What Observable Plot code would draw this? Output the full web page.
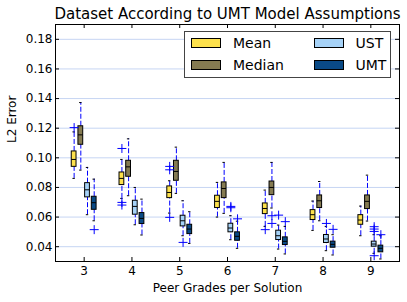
<!DOCTYPE html>
<html>
<head>
<meta charset="utf-8">
<script src="https://cdn.jsdelivr.net/npm/d3@7"></script>
<script src="https://cdn.jsdelivr.net/npm/@observablehq/plot@0.6"></script>
<style>
  html, body { margin: 0; padding: 0; background: #fff; }
  #wrap { position: relative; width: 407px; height: 302px; font-family: "DejaVu Sans", sans-serif; }
  #legend { position: absolute; left: 184px; top: 31px; width: 207px; height: 47px; border: 1.5px solid #444; background: #fff; box-sizing: border-box; }
  .sw { position: absolute; width: 30px; height: 10px; border: 1px solid #000; box-sizing: border-box; }
  .lb { position: absolute; font-size: 14px; line-height: 16px; color: #000; white-space: nowrap; }
</style>
</head>
<body>
<div id="wrap"></div>
<script>
const title = "Dataset According to UMT Model Assumptions";
const xLabel = "Peer Grades per Solution";
const yLabel = "L2 Error";
const groups = [3, 4, 5, 6, 7, 8, 9];
const yTicks = [0.04, 0.06, 0.08, 0.10, 0.12, 0.14, 0.16, 0.18];
const series = ["Mean", "Median", "UST", "UMT"];
const colors = ["#fde14c", "#857b52", "#a6d2f7", "#0a4a86"];

// per group: [lower cap, q1, median, q3, upper cap]
const meanStats = [
  [0.0861, 0.0939, 0.0989, 0.1043, 0.1175],
  [0.0726, 0.0816, 0.0861, 0.0901, 0.0989],
  [0.0627, 0.0728, 0.0766, 0.0807, 0.0845],
  [0.0600, 0.0661, 0.0706, 0.0744, 0.0834],
  [0.0537, 0.0620, 0.0658, 0.0692, 0.0782],
  [0.0510, 0.0580, 0.0616, 0.0647, 0.0708],
  [0.0474, 0.0548, 0.0580, 0.0613, 0.0674]
];
const medianStats = [
  [0.0917, 0.1088, 0.1155, 0.1213, 0.1373],
  [0.0744, 0.0872, 0.0939, 0.0980, 0.1128],
  [0.0760, 0.0845, 0.0908, 0.0980, 0.1072],
  [0.0625, 0.0728, 0.0793, 0.0834, 0.0969],
  [0.0661, 0.0748, 0.0800, 0.0840, 0.0969],
  [0.0575, 0.0661, 0.0710, 0.0746, 0.0840],
  [0.0573, 0.0654, 0.0706, 0.0746, 0.0883]
];
const ustStats = [
  [0.0616, 0.0733, 0.0784, 0.0829, 0.0935],
  [0.0548, 0.0616, 0.0672, 0.0710, 0.0800],
  [0.0474, 0.0537, 0.0575, 0.0609, 0.0710],
  [0.0447, 0.0497, 0.0526, 0.0555, 0.0609],
  [0.0384, 0.0445, 0.0474, 0.0508, 0.0546],
  [0.0373, 0.0425, 0.0452, 0.0479, 0.0537],
  [0.0355, 0.0400, 0.0418, 0.0434, 0.0481]
];
const umtStats = [
  [0.0575, 0.0649, 0.0697, 0.0737, 0.0856],
  [0.0479, 0.0553, 0.0591, 0.0627, 0.0721],
  [0.0422, 0.0485, 0.0519, 0.0548, 0.0636],
  [0.0389, 0.0440, 0.0470, 0.0497, 0.0572],
  [0.0351, 0.0411, 0.0436, 0.0463, 0.0537],
  [0.0344, 0.0393, 0.0416, 0.0434, 0.0481],
  [0.0317, 0.0362, 0.0389, 0.0407, 0.0474]
];
// outliers: [group, value]
const meanOutliers = [[3, 0.1204], [4, 0.1063], [4, 0.0699], [4, 0.0681], [5, 0.0942], [5, 0.0919], [5, 0.0598], [7, 0.0515]];
const medianOutliers = [[7, 0.0609], [7, 0.0557]];
const ustOutliers = [[5, 0.0429], [6, 0.0672], [6, 0.0663], [7, 0.0613], [8, 0.0557], [9, 0.0535], [9, 0.0519], [9, 0.0503], [9, 0.0339]];
const umtOutliers = [[3, 0.0515], [6, 0.0588], [7, 0.0569], [8, 0.0517], [9, 0.0481]];

const allStats = [meanStats, medianStats, ustStats, umtStats];
const allOutliers = [meanOutliers, medianOutliers, ustOutliers, umtOutliers];
const spacing = 0.14, boxHalf = 0.05, capHalf = 0.025;

const boxes = [];
allStats.forEach((stats, i) => stats.forEach((s, j) => boxes.push({
  series: series[i], color: colors[i], x: groups[j] + (i - 1.5) * spacing,
  lo: s[0], q1: s[1], med: s[2], q3: s[3], hi: s[4]
})));
const outliers = [];
allOutliers.forEach((list, i) => list.forEach(([g, v]) => outliers.push({
  series: series[i], x: g + (i - 1.5) * spacing, y: v
})));

const W = 407, H = 302, mL = 55, mR = 8, mT = 24, mB = 41;
const fw = W - mL - mR, fh = H - mT - mB;
const font = "DejaVu Sans";

const chart = Plot.plot({
  width: W, height: H,
  marginLeft: mL, marginRight: mR, marginTop: mT, marginBottom: mB,
  style: { fontFamily: font, background: "white", overflow: "visible" },
  x: { domain: [2.4, 9.6] },
  y: { domain: [0.03, 0.19] },
  marks: [
    Plot.ruleY(yTicks, { stroke: "#c6d5f3", strokeWidth: 1 }),
    Plot.ruleX(boxes, { x: "x", y1: "q3", y2: "hi", stroke: "blue", strokeDasharray: "5,2" }),
    Plot.ruleX(boxes, { x: "x", y1: "lo", y2: "q1", stroke: "blue", strokeDasharray: "5,2" }),
    Plot.rect(boxes, { x1: d => d.x - boxHalf, x2: d => d.x + boxHalf, y1: "q1", y2: "q3", fill: "color", stroke: "black", strokeWidth: 1 }),
    Plot.ruleY(boxes, { y: "med", x1: d => d.x - boxHalf, x2: d => d.x + boxHalf, stroke: "black", strokeWidth: 1 }),
    Plot.ruleY(boxes, { y: "hi", x1: d => d.x - capHalf, x2: d => d.x + capHalf, stroke: "black", strokeWidth: 1 }),
    Plot.ruleY(boxes, { y: "lo", x1: d => d.x - capHalf, x2: d => d.x + capHalf, stroke: "black", strokeWidth: 1 }),
    Plot.dot(outliers, { x: "x", y: "y", symbol: "plus", r: 3, stroke: "blue", strokeWidth: 1 }),
    Plot.frame({ stroke: "black", strokeWidth: 1 }),
    // inward ticks
    Plot.ruleX(groups, { x: d => d, insetTop: fh - 4, stroke: "black" }),
    Plot.ruleX(groups, { x: d => d, insetBottom: fh - 4, stroke: "black" }),
    Plot.ruleY(yTicks, { y: d => d, insetRight: fw - 4, stroke: "black" }),
    Plot.ruleY(yTicks, { y: d => d, insetLeft: fw - 4, stroke: "black" }),
    Plot.axisX(groups, { tickSize: 0, tickPadding: 5, fontSize: 12, label: null, fill: "black" }),
    Plot.axisY(yTicks, { tickSize: 0, tickPadding: 3, fontSize: 12, label: null, tickFormat: d3.format(".2f"), fill: "black" }),
    Plot.text([title], { frameAnchor: "top", lineAnchor: "bottom", dy: -5.5, fontSize: 15, fill: "black" }),
    Plot.text([xLabel], { frameAnchor: "bottom", lineAnchor: "bottom", dy: 30.5, fontSize: 12, fill: "black" }),
    Plot.text([yLabel], { frameAnchor: "left", rotate: -90, dx: -43, fontSize: 12, fill: "black" })
  ]
});

const wrap = document.getElementById("wrap");
wrap.appendChild(chart);

const legend = document.createElement("div");
legend.id = "legend";
series.forEach((s, i) => {
  const col = Math.floor(i / 2), row = i % 2;
  const sw = document.createElement("div");
  sw.className = "sw";
  sw.style.background = colors[i];
  sw.style.left = (6 + col * 122.5) + "px";
  sw.style.top = (6 + row * 21.5) + "px";
  legend.appendChild(sw);
  const lb = document.createElement("div");
  lb.className = "lb";
  lb.textContent = s;
  lb.style.left = (48 + col * 122.5) + "px";
  lb.style.top = (3 + row * 21.5) + "px";
  legend.appendChild(lb);
});
wrap.appendChild(legend);
</script>
</body>
</html>
